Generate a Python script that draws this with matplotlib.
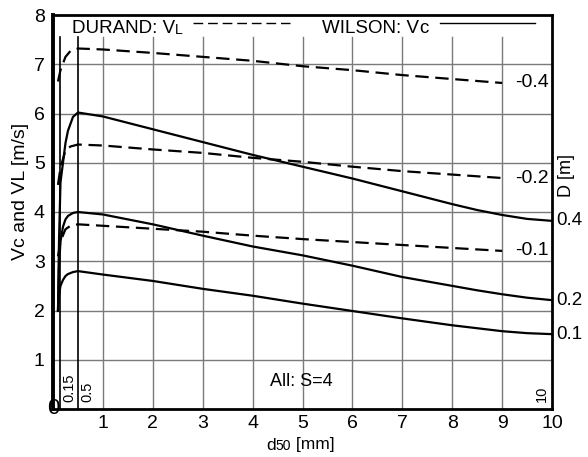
import matplotlib
matplotlib.use("Agg")
import matplotlib.pyplot as plt

plt.rcParams['font.family'] = ['Liberation Sans', 'DejaVu Sans']

# ---- data ----
d_durand = [0.1, 0.15, 0.25, 0.35, 0.5, 1, 2, 3, 4, 5, 6, 7, 8, 9]
vl_04 = [6.65, 6.88, 7.15, 7.27, 7.32, 7.30, 7.23, 7.15, 7.07, 6.96, 6.88, 6.78, 6.70, 6.62]
vl_02 = [4.55, 4.90, 5.25, 5.33, 5.37, 5.35, 5.27, 5.20, 5.10, 5.02, 4.92, 4.83, 4.76, 4.69]
vl_01 = [3.10, 3.40, 3.65, 3.72, 3.75, 3.72, 3.66, 3.60, 3.52, 3.45, 3.39, 3.33, 3.27, 3.21]

d_wilson = [0.1, 0.12, 0.15, 0.2, 0.25, 0.3, 0.4, 0.5, 1, 2, 3, 4, 5, 6, 7, 8, 8.5, 9, 9.5, 10]
vc_04 = [2.0, 3.4, 4.6, 5.0, 5.4, 5.65, 5.93, 6.02, 5.94, 5.68, 5.42, 5.16, 4.92, 4.68, 4.42, 4.16, 4.04, 3.94, 3.86, 3.82]
vc_02 = [2.0, 2.9, 3.4, 3.7, 3.85, 3.92, 3.98, 4.0, 3.95, 3.75, 3.52, 3.30, 3.12, 2.91, 2.68, 2.50, 2.41, 2.33, 2.26, 2.21]
vc_01 = [2.0, 2.3, 2.5, 2.62, 2.7, 2.74, 2.78, 2.8, 2.73, 2.60, 2.44, 2.30, 2.14, 1.99, 1.84, 1.70, 1.64, 1.58, 1.54, 1.52]

diam_labels = ["0.4", "0.2", "0.1"]
x_ticks = [1, 2, 3, 4, 5, 6, 7, 8, 9, 10]
y_ticks = [1, 2, 3, 4, 5, 6, 7, 8]
ref_lines = [0.15, 0.5]
ref_labels = ["0.15", "0.5"]

# ---- figure ----
fig = plt.figure(figsize=(5.88, 4.57), dpi=100)
ax = fig.add_axes([53/588, 48/457, (552-53)/588, (409-15)/457])
ax.set_xlim(0, 10)
ax.set_ylim(0, 8)

grid_col = '#7a7a7a'
for x in range(1, 10):
    ax.plot([x, x], [0, 7.55], color=grid_col, lw=1.0, zorder=1)
for y in range(1, 8):
    ax.axhline(y, color=grid_col, lw=1.0, zorder=1)
for x in ref_lines:
    ax.plot([x, x], [0, 7.55], color='black', lw=1.2, zorder=2)

dash = (6, 3)
for vals in (vl_04, vl_02, vl_01):
    ax.plot(d_durand, vals, color='black', lw=1.6, dashes=dash, zorder=3)
for vals in (vc_04, vc_02, vc_01):
    ax.plot(d_wilson, vals, color='black', lw=1.6, zorder=3)

# right-side labels
for vals, lab in zip((vl_04, vl_02, vl_01), diam_labels):
    ax.text(9.94, vals[-1], "-" + lab, ha='right', va='center', fontsize=14)
for vals, lab in zip((vc_04, vc_02, vc_01), diam_labels):
    ax.text(10.08, vals[-1], lab, ha='left', va='center', fontsize=13.5, clip_on=False)
ax.text(10.3, 4.75, "D [m]", rotation=90, ha='center', va='center', fontsize=13, clip_on=False)

# rotated reference labels
for x, lab in zip(ref_lines, ref_labels):
    ax.text(x + 0.04, 0.14, lab, rotation=90, ha='left', va='bottom', fontsize=10.5)
ax.text(9.93, 0.14, "10", rotation=90, ha='right', va='bottom', fontsize=10.5)

ax.text(4.98, 0.55, "All: S=4", ha='center', va='center', fontsize=13)

# legend-like header
t1 = ax.text(0.38, 7.73, "DURAND: V", ha='left', va='center', fontsize=13.5)
ax.annotate("L", xy=(1, 0), xycoords=t1, ha='left', va='bottom', fontsize=10)
ax.plot([2.8, 4.75], [7.84, 7.84], color='black', lw=1.0, dashes=(7, 3.5))
t2 = ax.text(5.39, 7.73, "WILSON: V", ha='left', va='center', fontsize=13.5)
ax.annotate("c", xy=(1, 0), xycoords=t2, ha='left', va='bottom', fontsize=13.5)
ax.plot([7.75, 9.65], [7.84, 7.84], color='black', lw=1.0)

# ticks
ax.set_xticks(x_ticks)
ax.set_yticks(y_ticks)
ax.tick_params(axis='both', length=0, labelsize=14)
ax.tick_params(axis='x', pad=4)
ax.tick_params(axis='y', pad=6)
ax.text(0, 0, "0", ha='center', va='center', fontsize=16, clip_on=False, zorder=5)

for s in ax.spines.values():
    s.set_linewidth(2.0)
    s.set_color('black')
ax.spines['left'].set_linewidth(2.8)

# axis labels
fig.text(21/588, (457-191)/457, "Vc and VL [m/s]", rotation=90, ha='center', va='center', fontsize=14)
base_y = 7.5/457
tx = fig.text(266/588, base_y, "d", ha='left', va='baseline', fontsize=12.5)
fig.canvas.draw()
r = fig.canvas.get_renderer()
bb = tx.get_window_extent(r)
t50 = fig.text(bb.x1 / fig.bbox.width, base_y, "50", ha='left', va='baseline', fontsize=10)
bb2 = t50.get_window_extent(r)
fig.text(bb2.x1 / fig.bbox.width, base_y, " [mm]", ha='left', va='baseline', fontsize=12.5)

fig.savefig("out.png", dpi=100, facecolor='white')
